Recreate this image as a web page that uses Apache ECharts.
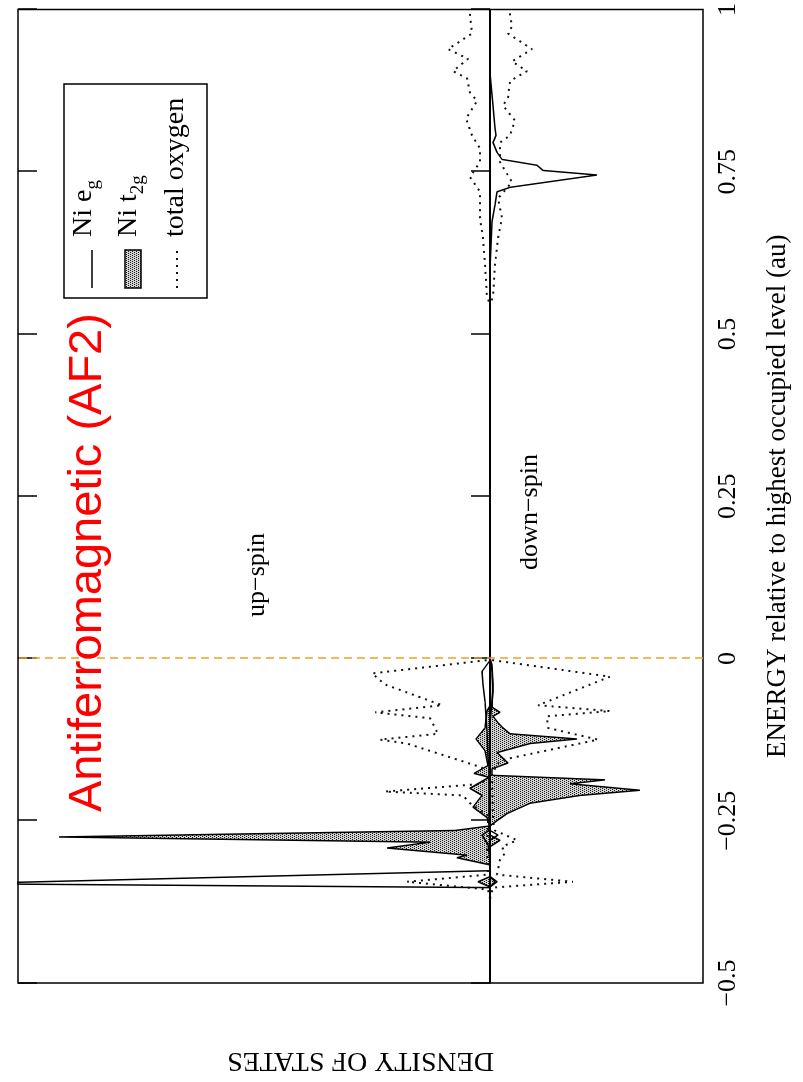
<!DOCTYPE html>
<html>
<head>
<meta charset="utf-8">
<title>Antiferromagnetic (AF2) density of states</title>
<script src="https://cdn.jsdelivr.net/npm/echarts@6/dist/echarts.min.js"></script>
<style>
    html, body {
        margin: 0;
        padding: 0;
        background: #fff;
        overflow: hidden;
    }
    body {
        width: 803px;
        height: 1082px;
        position: relative;
    }
    /* the plot is laid out landscape and turned a quarter turn, like the printed page */
    #chart {
        position: absolute;
        left: 0;
        top: 0;
        width: 1082px;
        height: 803px;
        transform-origin: 0 0;
        transform: translateY(1082px) rotate(-90deg);
    }
</style>
</head>
<body>
<div id="chart"></div>
<script>
// energy (au) vs density of states; up-spin positive, down-spin negative
var energyTicks = [-0.5, -0.25, 0, 0.25, 0.5, 0.75, 1];

var egUp = [
    [-0.5, 0], [-0.36, 0], [-0.353, 0], [-0.347, 5.3], [-0.327, 0], [-0.31, 0],
    [-0.287, 0.02], [-0.272, 0.08], [-0.265, 0.01], [-0.2, 0.01], [-0.165, 0.01],
    [-0.153, 0.02], [-0.112, 0.03], [-0.066, 0.05], [-0.04, 0.07], [-0.02, 0.08],
    [-0.003, 0], [1, 0]
];
var egDown = [
    [-0.5, 0], [-0.352, 0], [-0.344, -0.05], [-0.336, 0], [-0.28, 0], [-0.272, -0.08],
    [-0.265, 0], [-0.1, 0], [-0.05, -0.03], [-0.02, -0.02], [0, 0], [0.6, 0],
    [0.673, -0.02], [0.699, -0.05], [0.719, -0.07], [0.726, -0.2], [0.745, -1.07],
    [0.752, -0.53], [0.76, -0.47], [0.769, -0.12], [0.78, -0.07], [0.795, -0.03],
    [0.806, -0.06], [0.817, -0.05], [0.852, -0.03], [0.902, 0], [1, 0]
];
var t2gUp = [
    [-0.5, 0], [-0.352, 0], [-0.344, 0.12], [-0.336, 0], [-0.318, 0],
    [-0.307, 0.33], [-0.303, 0.23], [-0.292, 1.03], [-0.283, 0.6], [-0.275, 4.31],
    [-0.265, 0.35], [-0.258, 0], [-0.245, 0.03], [-0.229, 0.17], [-0.211, 0.08],
    [-0.2, 0.2], [-0.183, 0.01], [-0.177, 0.16], [-0.165, 0.02], [-0.142, 0.05],
    [-0.124, 0.14], [-0.107, 0.05], [-0.081, 0.03], [-0.073, 0], [1, 0]
];
var t2gDown = [
    [-0.5, 0], [-0.352, 0], [-0.344, -0.07], [-0.336, 0], [-0.29, 0], [-0.28, -0.1],
    [-0.272, 0], [-0.258, 0], [-0.252, -0.05], [-0.239, -0.17], [-0.223, -0.4],
    [-0.211, -0.9], [-0.203, -1.5], [-0.193, -0.8], [-0.187, -1.15], [-0.18, -0.02],
    [-0.17, -0.02], [-0.161, -0.18], [-0.145, -0.07], [-0.131, -0.4], [-0.124, -0.87],
    [-0.116, -0.2], [-0.107, -0.13], [-0.099, -0.08], [-0.089, -0.03], [-0.083, -0.1],
    [-0.075, -0.02], [-0.04, -0.03], [-0.01, -0.02], [0, 0], [1, 0]
];
var oxUp = [
    [-0.5, 0], [-0.37, 0], [-0.356, 0.02], [-0.344, 0.83], [-0.333, 0.02], [-0.29, 0.03],
    [-0.265, 0.02], [-0.242, 0.02], [-0.223, 0.2], [-0.211, 0.27], [-0.205, 1.05],
    [-0.193, 0.07], [-0.168, 0.08], [-0.131, 0.83], [-0.125, 1.1], [-0.116, 0.52],
    [-0.092, 0.6], [-0.083, 1.15], [-0.072, 0.48], [-0.04, 1.05], [-0.023, 1.18],
    [-0.002, 0], [0.546, 0], [0.557, 0.03], [0.607, 0.05], [0.648, 0.07], [0.679, 0.1],
    [0.719, 0.1], [0.742, 0.2], [0.765, 0.1], [0.786, 0.1], [0.806, 0.18], [0.832, 0.24],
    [0.859, 0.13], [0.872, 0.2], [0.894, 0.23], [0.905, 0.37], [0.924, 0.22],
    [0.939, 0.42], [0.963, 0.18], [0.992, 0.2], [1, 0.2]
];
var oxDown = [
    [-0.5, 0], [-0.37, 0], [-0.353, -0.03], [-0.344, -0.83], [-0.333, -0.07], [-0.31, -0.1],
    [-0.3, -0.15], [-0.29, -0.12], [-0.28, -0.27], [-0.265, -0.05], [-0.25, -0.03],
    [-0.177, -0.02], [-0.157, -0.1], [-0.125, -1.08], [-0.107, -0.58], [-0.089, -0.57],
    [-0.081, -1.2], [-0.072, -0.48], [-0.028, -1.2], [-0.002, 0], [0.546, 0],
    [0.557, -0.03], [0.607, -0.05], [0.648, -0.08], [0.679, -0.12], [0.709, -0.08],
    [0.734, -0.22], [0.765, -0.1], [0.795, -0.1], [0.806, -0.2], [0.829, -0.25],
    [0.852, -0.13], [0.864, -0.18], [0.89, -0.2], [0.905, -0.37], [0.92, -0.22],
    [0.939, -0.42], [0.963, -0.18], [0.974, -0.22], [0.992, -0.2], [1, -0.2]
];

var SERIF = '"Liberation Serif", "Times New Roman", serif';

// stippled fill used for the t2g areas
var dots = document.createElement('canvas');
dots.width = 4;
dots.height = 4;
var ctx = dots.getContext('2d');
ctx.fillStyle = '#d2d2d2';
ctx.fillRect(0, 0, 4, 4);
ctx.fillStyle = '#1a1a1a';
ctx.fillRect(0, 0, 1, 1);
ctx.fillRect(2, 0, 1, 1);
ctx.fillRect(1, 2, 1, 1);
ctx.fillRect(3, 2, 1, 1);
var stipple = { image: dots, repeat: 'repeat' };

var solid = { color: '#000', width: 1.5 };
var dotted = { color: '#111', width: 2, type: [2, 5] };

var chart = echarts.init(document.getElementById('chart'));

var line = function(name, data, lineStyle, area, z) {
    var s = {
        name: name,
        type: 'line',
        data: data,
        showSymbol: false,
        symbol: 'none',
        lineStyle: lineStyle,
        z: z,
        silent: true
    };
    if (area) {
        s.areaStyle = { color: stipple, opacity: 1 };
    }
    return s;
};

var series = [
    line('Ni t2g', t2gUp, solid, true, 2),
    line('Ni t2g', t2gDown, solid, true, 2),
    line('Ni eg', egUp, solid, false, 3),
    line('Ni eg', egDown, solid, false, 3),
    line('total oxygen', oxUp, dotted, false, 4),
    line('total oxygen', oxDown, dotted, false, 4)
];
series[2].markLine = {
    silent: true,
    symbol: 'none',
    label: { show: false },
    data: [
        { yAxis: 0, lineStyle: { color: '#000', width: 2, type: 'solid' } },
        { xAxis: 0, lineStyle: { color: '#f0a020', width: 1.5, type: [8, 5] } }
    ]
};

var labelText = function(v) {
    return String(v).replace('-', '\u2212');
};

var keyText = function(txt, y) {
    return {
        type: 'text', x: 845, y: y, z: 61,
        style: {
            text: txt, font: '28px ' + SERIF, fill: '#000',
            rich: { s: { fontSize: 19, fontFamily: SERIF, padding: [19, 0, 0, 0] } },
            align: 'left', verticalAlign: 'middle',
            textAlign: 'left', textVerticalAlign: 'middle'
        }
    };
};

option = {
    backgroundColor: '#fff',
    animation: false,
    grid: {
        left: 98,
        right: 4,
        top: 18,
        bottom: 100,
        show: true,
        borderColor: '#000',
        borderWidth: 1.5
    },
    xAxis: [{
        type: 'value',
        min: energyTicks[0],
        max: energyTicks[energyTicks.length - 1],
        interval: 0.25,
        name: 'ENERGY relative to highest occupied level (au)',
        nameLocation: 'middle',
        nameGap: 61,
        nameTextStyle: { color: '#000', fontFamily: SERIF, fontSize: 27 },
        axisLine: { show: true, lineStyle: { color: '#000', width: 1.5 } },
        axisTick: { show: true, inside: true, length: 19, lineStyle: { color: '#000', width: 1.5 } },
        axisLabel: {
            color: '#000', fontFamily: SERIF, fontSize: 26, margin: 12,
            showMinLabel: true, showMaxLabel: true,
            formatter: labelText
        },
        splitLine: { show: false }
    }, {
        type: 'value',
        position: 'top',
        min: energyTicks[0],
        max: energyTicks[energyTicks.length - 1],
        interval: 0.25,
        axisLine: { show: false },
        axisTick: { show: true, inside: true, length: 19, lineStyle: { color: '#000', width: 1.5 } },
        axisLabel: { show: false },
        splitLine: { show: false }
    }],
    yAxis: {
        type: 'value',
        min: -2.13,
        max: 4.72,
        name: 'DENSITY OF STATES',
        nameLocation: 'middle',
        nameGap: 63,
        nameTextStyle: { color: '#000', fontFamily: SERIF, fontSize: 28 },
        axisLine: { show: false },
        axisTick: { show: false },
        axisLabel: { show: false },
        splitLine: { show: false }
    },
    series: series,
    graphic: [
        {
            type: 'text', x: 270, y: 88, z: 50,
            style: {
                text: 'Antiferromagnetic (AF2)',
                font: '47px "Liberation Sans", Arial, sans-serif',
                fill: '#ff0000',
                align: 'left', verticalAlign: 'middle',
                textAlign: 'left', textVerticalAlign: 'middle'
            }
        },
        {
            type: 'text', x: 507, y: 257, z: 50,
            style: {
                text: 'up\u2212spin', font: '26px ' + SERIF, fill: '#000',
                align: 'center', verticalAlign: 'middle',
                textAlign: 'center', textVerticalAlign: 'middle'
            }
        },
        {
            type: 'text', x: 570, y: 530, z: 50,
            style: {
                text: 'down\u2212spin', font: '26px ' + SERIF, fill: '#000',
                align: 'center', verticalAlign: 'middle',
                textAlign: 'center', textVerticalAlign: 'middle'
            }
        },
        // key
        {
            type: 'rect', z: 60,
            shape: { x: 784, y: 64, width: 214, height: 143 },
            style: { fill: '#fff', stroke: '#000', lineWidth: 1.5 }
        },
        {
            type: 'line', z: 61,
            shape: { x1: 794, y1: 92, x2: 832, y2: 92 },
            style: { stroke: '#000', lineWidth: 1.5 }
        },
        {
            type: 'rect', z: 61,
            shape: { x: 794, y: 125, width: 38, height: 16 },
            style: { fill: stipple, stroke: '#000', lineWidth: 1.5 }
        },
        {
            type: 'line', z: 61,
            shape: { x1: 794, y1: 177, x2: 832, y2: 177 },
            style: { stroke: '#111', lineWidth: 2, lineDash: [2, 5] }
        },
        keyText('Ni e{s|g}', 84),
        keyText('Ni t{s|2g}', 129),
        keyText('total oxygen', 176)
    ]
};

chart.setOption(option);
</script>
</body>
</html>
